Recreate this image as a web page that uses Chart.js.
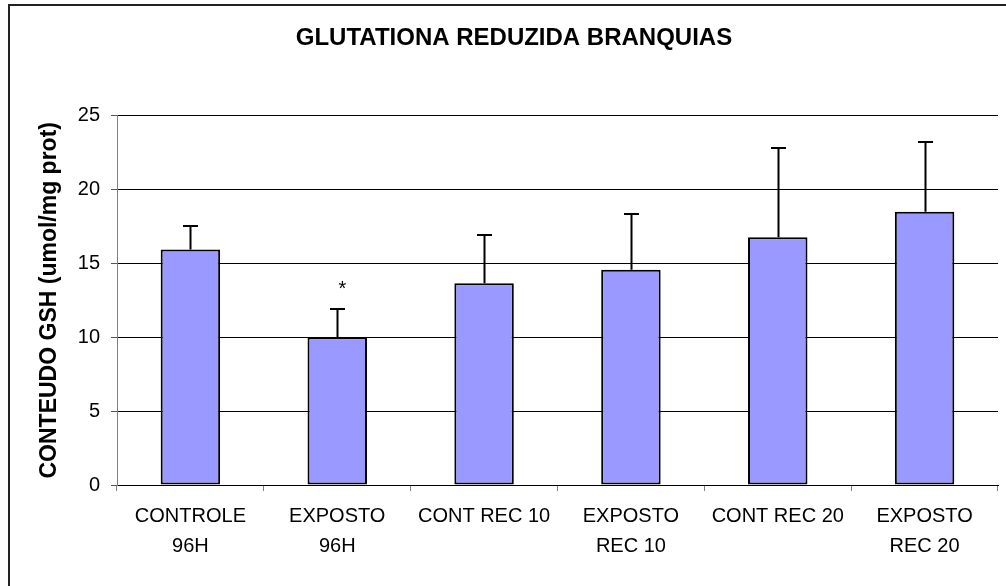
<!DOCTYPE html>
<html>
<head>
<meta charset="utf-8">
<script src="https://cdn.jsdelivr.net/npm/chart.js@4/dist/chart.umd.min.js"></script>
<style>
  html, body { margin: 0; padding: 0; background: #fff; overflow: hidden; }
  canvas { display: block; }
</style>
</head>
<body>
<canvas id="gsh" width="1006" height="586"></canvas>
<script>
// Reduced glutathione content in gills, mean + standard deviation per group
const categories = [
  ["CONTROLE", "96H"],
  ["EXPOSTO", "96H"],
  "CONT REC 10",
  ["EXPOSTO", "REC 10"],
  "CONT REC 20",
  ["EXPOSTO", "REC 20"]
];
const meanValues = [15.93, 10.0, 13.65, 14.57, 16.76, 18.49];
const sdValues = [1.61, 1.89, 3.24, 3.78, 6.05, 4.73];
const significance = ["", "*", "", "", "", ""];
const yTicks = [0, 5, 10, 15, 20, 25];

const FONT = "'Liberation Sans', Arial, sans-serif";

// Frame around the chart (left and top edges)
const framePlugin = {
  id: 'frame',
  beforeDraw(chart) {
    const ctx = chart.ctx;
    ctx.save();
    ctx.fillStyle = '#fff';
    ctx.fillRect(0, 0, chart.width, chart.height);
    ctx.strokeStyle = '#222';
    ctx.lineWidth = 2;
    ctx.beginPath();
    ctx.moveTo(9, chart.height + 2);
    ctx.lineTo(9, 5);
    ctx.lineTo(chart.width + 2, 5);
    ctx.stroke();
    ctx.restore();
  }
};

// Upper error bars with caps, plus significance markers above them
const errorBarPlugin = {
  id: 'errorBars',
  afterDatasetsDraw(chart) {
    const ctx = chart.ctx;
    const y = chart.scales.y;
    const meta = chart.getDatasetMeta(0);
    ctx.save();
    ctx.strokeStyle = '#000';
    ctx.lineWidth = 2;
    meta.data.forEach((bar, i) => {
      const x = Math.round(bar.x) + 0.5;
      const yBar = y.getPixelForValue(meanValues[i]);
      const yTop = Math.round(y.getPixelForValue(meanValues[i] + sdValues[i]));
      ctx.beginPath();
      ctx.moveTo(x, yBar);
      ctx.lineTo(x, yTop);
      ctx.moveTo(x - 7.5, yTop);
      ctx.lineTo(x + 7.5, yTop);
      ctx.stroke();
      if (significance[i]) {
        ctx.font = '20px ' + FONT;
        ctx.fillStyle = '#000';
        ctx.textAlign = 'center';
        ctx.textBaseline = 'alphabetic';
        const m = ctx.measureText(significance[i]);
        const glyphMid = (m.actualBoundingBoxAscent - m.actualBoundingBoxDescent) / 2;
        ctx.fillText(significance[i], x + 5, yTop - 24 + glyphMid);
      }
    });
    ctx.restore();
  }
};

new Chart(document.getElementById('gsh'), {
  type: 'bar',
  data: {
    labels: categories,
    datasets: [{
      data: meanValues,
      backgroundColor: '#9999FF',
      borderColor: '#000',
      borderWidth: 2,
      borderSkipped: false,
      categoryPercentage: 1.0,
      barPercentage: 0.405
    }]
  },
  options: {
    responsive: false,
    animation: false,
    devicePixelRatio: 1,
    layout: { padding: { left: 30, right: 8, top: 10, bottom: 0 } },
    plugins: {
      legend: { display: false },
      tooltip: { enabled: false },
      title: {
        display: true,
        text: 'GLUTATIONA REDUZIDA BRANQUIAS',
        color: '#000',
        font: { family: FONT, size: 24, weight: 'bold', lineHeight: 1.2 },
        padding: { top: 14, bottom: 62.7 }
      }
    },
    scales: {
      x: {
        type: 'category',
        offset: true,
        grid: {
          display: true,
          drawOnChartArea: false,
          drawTicks: true,
          tickLength: 6,
          offset: true,
          color: '#808080'
        },
        border: { display: true, color: '#000', width: 1 },
        ticks: {
          color: '#000',
          font: { family: FONT, size: 20, lineHeight: 1.5 },
          padding: 10,
          maxRotation: 0,
          minRotation: 0,
          autoSkip: false
        },
        afterFit(scale) { scale.height = 101; }
      },
      y: {
        min: 0,
        max: 25,
        afterBuildTicks(scale) { scale.ticks = yTicks.map(v => ({ value: v })); },
        grid: {
          color: '#000',
          lineWidth: 1,
          drawTicks: true,
          tickLength: 6,
          tickColor: '#555'
        },
        border: { display: true, color: '#808080', width: 1 },
        ticks: {
          color: '#000',
          font: { family: FONT, size: 20 },
          padding: 11
        },
        title: {
          display: true,
          text: 'CONTEUDO GSH (umol/mg prot)',
          color: '#000',
          font: { family: FONT, size: 23, weight: 'bold', lineHeight: 1.2 },
          padding: { top: 6, bottom: 0 }
        },
        afterFit(scale) { scale.width = 87; }
      }
    }
  },
  plugins: [framePlugin, errorBarPlugin]
});
</script>
</body>
</html>
